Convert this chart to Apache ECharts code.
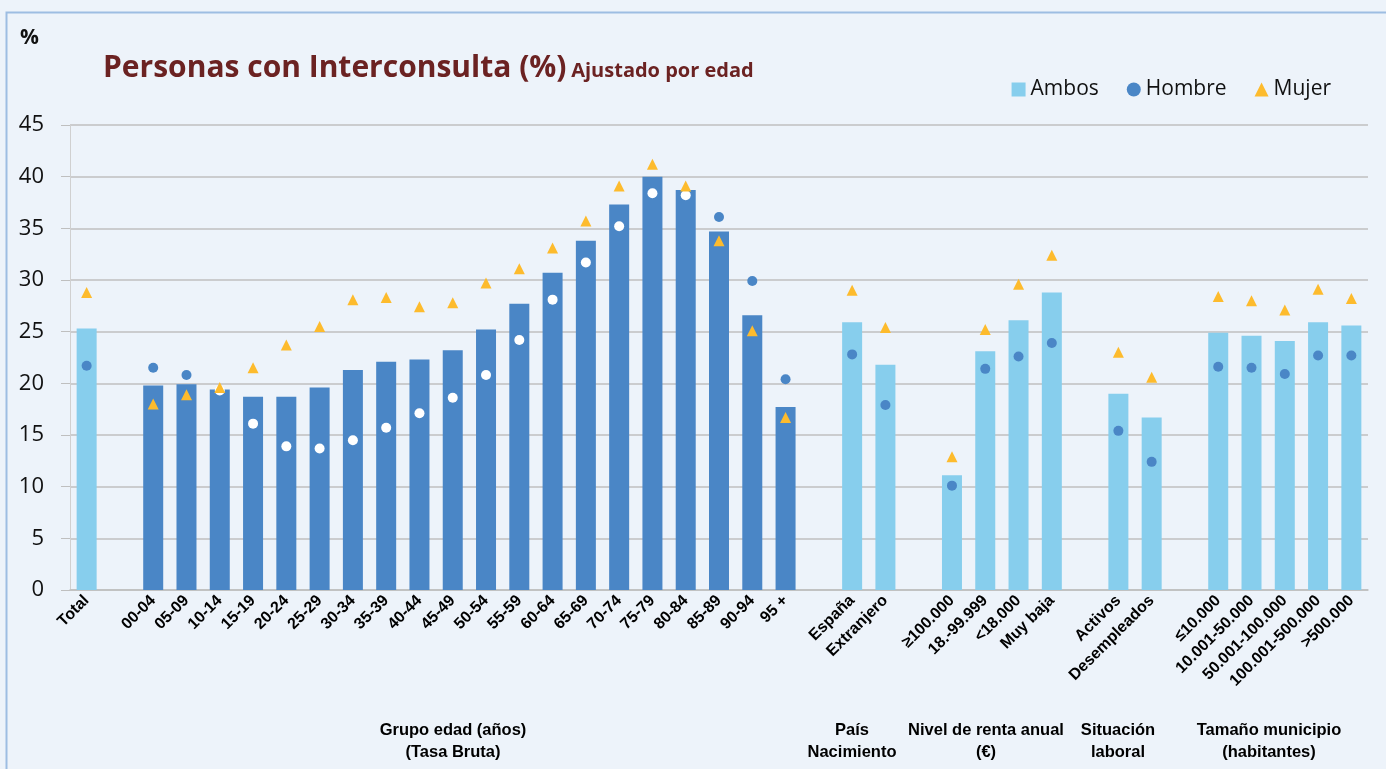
<!DOCTYPE html>
<html>
<head>
<meta charset="utf-8">
<style>
  html, body { margin: 0; padding: 0; background: #edf3fa; }
  #chart { width: 1386px; height: 769px; }
</style>
<script src="https://cdn.jsdelivr.net/npm/echarts@6/dist/echarts.min.js"></script>
</head>
<body>
<div id="chart"></div>
<script>
// categorías del eje X ('' = hueco entre grupos)
const categorias = [
  'Total', '',
  '00-04', '05-09', '10-14', '15-19', '20-24', '25-29', '30-34', '35-39', '40-44', '45-49',
  '50-54', '55-59', '60-64', '65-69', '70-74', '75-79', '80-84', '85-89', '90-94', '95 +', '',
  'España', 'Extranjero', '',
  '≥100.000', '18.-99.999', '<18.000', 'Muy baja', '',
  'Activos', 'Desempleados', '',
  '≤10.000', '10.001-50.000', '50.001-100.000', '100.001-500.000', '>500.000'
]

const ambos = [
  25.3, null,
  19.8, 19.9, 19.4, 18.7, 18.7, 19.6, 21.3, 22.1, 22.3, 23.2,
  25.2, 27.7, 30.7, 33.8, 37.3, 40.0, 38.7, 34.7, 26.6, 17.7, null,
  25.9, 21.8, null,
  11.1, 23.1, 26.1, 28.8, null,
  19.0, 16.7, null,
  24.9, 24.6, 24.1, 25.9, 25.6
]

const hombre = [
  21.7, null,
  21.5, 20.8, 19.3, 16.1, 13.9, 13.7, 14.5, 15.7, 17.1, 18.6,
  20.8, 24.2, 28.1, 31.7, 35.2, 38.4, 38.2, 36.1, 29.9, 20.4, null,
  22.8, 17.9, null,
  10.1, 21.4, 22.6, 23.9, null,
  15.4, 12.4, null,
  21.6, 21.5, 20.9, 22.7, 22.7
]

const mujer = [
  28.8, null,
  18.0, 18.9, 19.6, 21.5, 23.7, 25.5, 28.1, 28.3, 27.4, 27.8,
  29.7, 31.1, 33.1, 35.7, 39.1, 41.2, 39.1, 33.8, 25.1, 16.7, null,
  29.0, 25.4, null,
  12.9, 25.2, 29.6, 32.4, null,
  23.0, 20.6, null,
  28.4, 28.0, 27.1, 29.1, 28.2
]

// tramo de grupos de edad (tasa bruta) -> barras oscuras
const edadIni = 2
const edadFin = 21

const azulClaro = '#87ceed'
const azulOscuro = '#4a86c6'
const naranja = '#fdbb2d'

const chart = echarts.init(document.getElementById('chart'))

const esEdad = i => i >= edadIni && i <= edadFin

const grupoTexto = {
  align: 'center', fontSize: 16.5, lineHeight: 22, fontWeight: 'bold',
  fill: '#000', fontFamily: 'Liberation Sans, Arial'
}

const option = {
  backgroundColor: '#edf3fa',
  textStyle: { fontFamily: 'Open Sans, sans-serif' },
  title: {
    text: '{a|Personas con Interconsulta (%)} {b|Ajustado por edad}',
    left: 98,
    top: 48,
    textStyle: {
      rich: {
        a: { fontSize: 30, fontWeight: 'bold', color: '#6b2222', fontFamily: 'Open Sans' },
        b: { fontSize: 20, fontWeight: 'bold', color: '#6b2222', fontFamily: 'Open Sans', padding: [6, 0, 0, 0] }
      }
    }
  },
  legend: {
    right: 50,
    top: 74,
    itemGap: 28,
    itemWidth: 14,
    itemHeight: 14,
    textStyle: { fontSize: 21, color: '#111', fontFamily: 'Open Sans' },
    data: [
      { name: 'Ambos', icon: 'rect' },
      { name: 'Hombre', icon: 'circle' },
      { name: 'Mujer', icon: 'triangle' }
    ]
  },
  grid: {
    left: 70,
    right: 18,
    top: 125,
    bottom: 179
  },
  xAxis: {
    type: 'category',
    data: categorias,
    axisLine: { lineStyle: { color: '#bfbfbf', width: 1.5 } },
    axisTick: { show: false },
    axisLabel: {
      interval: 0,
      rotate: 45,
      fontSize: 16,
      fontWeight: 'bold',
      color: '#000',
      fontFamily: 'Liberation Sans, Arial, sans-serif',
      margin: 8
    }
  },
  yAxis: {
    type: 'value',
    min: 0,
    max: 45,
    interval: 5,
    axisLine: { show: true, lineStyle: { color: '#d0d0d0' } },
    axisTick: { show: true, inside: false, length: 9, lineStyle: { color: '#bfbfbf' } },
    axisLabel: { fontSize: 22, color: '#111', margin: 26, fontFamily: 'Open Sans' },
    splitLine: { lineStyle: { color: '#bfbfbf', width: 1.5 } }
  },
  series: [
    {
      name: 'Ambos',
      type: 'bar',
      barWidth: 20,
      itemStyle: { color: azulClaro },
      data: ambos.map((v, i) => ({
        value: v,
        itemStyle: { color: esEdad(i) ? azulOscuro : azulClaro }
      })),
      z: 2
    },
    {
      name: 'Hombre',
      type: 'scatter',
      symbol: 'circle',
      symbolSize: 10,
      itemStyle: { color: azulOscuro, opacity: 1 },
      data: hombre.map((v, i) => ({
        value: v,
        itemStyle: { color: (esEdad(i) && v < ambos[i]) ? '#ffffff' : azulOscuro }
      })),
      z: 3
    },
    {
      name: 'Mujer',
      type: 'scatter',
      symbol: 'triangle',
      symbolSize: 11,
      itemStyle: { color: naranja, opacity: 1 },
      data: mujer,
      z: 4
    }
  ],
  graphic: [
    {
      type: 'rect',
      shape: { x: 6.5, y: 12.5, width: 1400, height: 800 },
      style: { fill: 'none', stroke: '#9dbde2', lineWidth: 2 },
      silent: true
    },
    {
      type: 'text', left: 20, top: 28,
      style: { text: '%', fontSize: 21, fontWeight: 'bold', fill: '#111', fontFamily: 'Open Sans' }
    },
    { type: 'text', x: 453, y: 719, style: Object.assign({ text: 'Grupo edad (años)\n(Tasa Bruta)' }, grupoTexto) },
    { type: 'text', x: 852, y: 719, style: Object.assign({ text: 'País\nNacimiento' }, grupoTexto) },
    { type: 'text', x: 986, y: 719, style: Object.assign({ text: 'Nivel de renta anual\n(€)' }, grupoTexto) },
    { type: 'text', x: 1118, y: 719, style: Object.assign({ text: 'Situación\nlaboral' }, grupoTexto) },
    { type: 'text', x: 1269, y: 719, style: Object.assign({ text: 'Tamaño municipio\n(habitantes)' }, grupoTexto) }
  ]
}

chart.setOption(option)

window.addEventListener('resize', () => chart.resize())
</script>
</body>
</html>
